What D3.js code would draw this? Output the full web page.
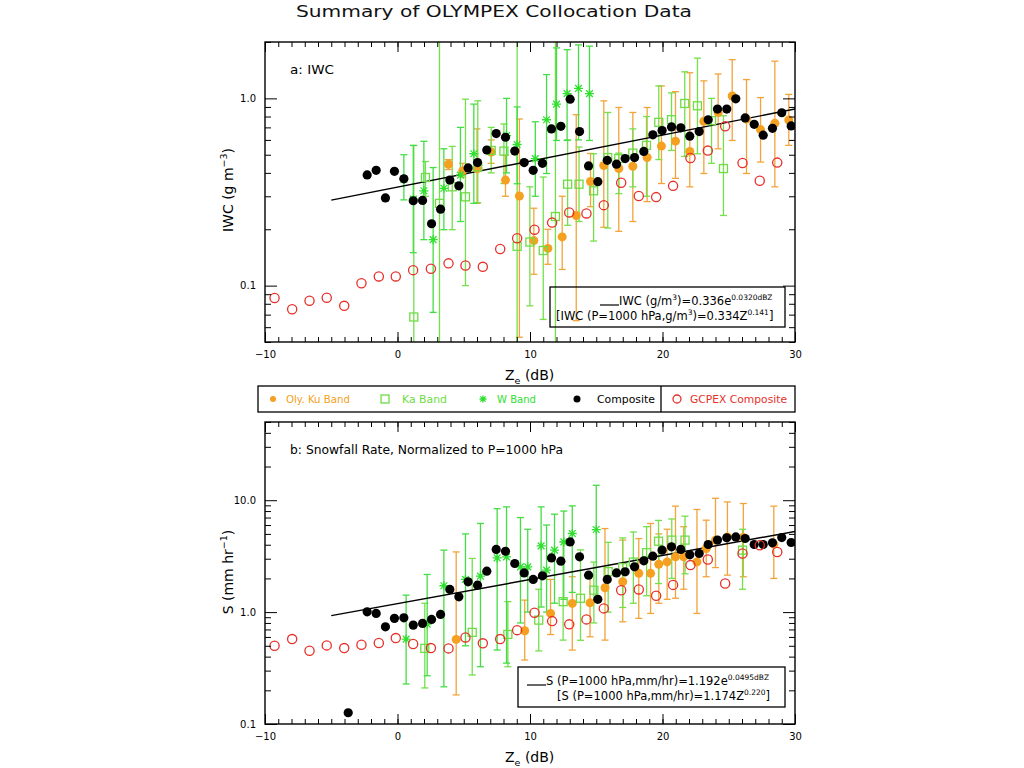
<!DOCTYPE html>
<html><head><meta charset="utf-8">
<script src="https://cdn.jsdelivr.net/npm/d3@7"></script>
<style>body{margin:0;background:#fff} text{font-family:"DejaVu Sans",sans-serif;fill:#000}</style>
</head><body><svg id="c" width="1024" height="768"></svg>
<script>
// ---------------- DATA ----------------
const xTickVals = [-10, 0, 10, 20, 30];
const xTickLabels = ["\u221210", "0", "10", "20", "30"];
const topYTickVals = [0.1, 1.0];
const topYTickLabels = ["0.1", "1.0"];
const botYTickVals = [0.1, 1.0, 10.0];
const botYTickLabels = ["0.1", "1.0", "10.0"];

// Composite (black) - panel a
const zCompTop = [-2.29,-1.61,-0.91,-0.23,0.48,1.19,1.89,2.57,3.25,3.95,4.63,5.33,6.04,6.74,7.45,8.15,8.85,9.56,10.24,10.94,11.62,12.33,13.03,13.74,14.42,15.12,15.83,16.53,17.18,17.89,18.59,19.27,19.97,20.68,21.38,22.06,22.77,23.45,24.15,24.85,25.53,26.24,26.92,27.6,28.3,29.0,29.71];
const iwcComp = [0.390,0.413,0.294,0.408,0.372,0.284,0.285,0.214,0.256,0.366,0.341,0.425,0.454,0.530,0.649,0.620,0.523,0.454,0.413,0.450,0.687,0.709,0.99,0.665,0.436,0.359,0.467,0.445,0.477,0.483,0.521,0.639,0.673,0.704,0.696,0.628,0.665,0.769,0.877,0.877,0.994,0.786,0.727,0.636,0.692,0.838,0.713];
// Composite (black) - panel b
const zCompBot = [-3.72,-2.29,-1.61,-0.91,-0.23,0.48,1.19,1.89,2.57,3.25,3.95,4.63,5.33,6.04,6.74,7.45,8.15,8.85,9.56,10.24,10.94,11.62,12.33,13.03,13.74,14.42,15.12,15.83,16.53,17.18,17.89,18.59,19.27,19.97,20.68,21.38,22.06,22.77,23.45,24.15,24.85,25.53,26.24,26.92,27.6,28.3,29.0,29.71];
const sComp = [0.126,1.006,0.973,0.739,0.879,0.889,0.765,0.792,0.861,0.954,1.595,1.37,1.866,1.742,2.32,3.63,3.50,2.72,2.24,1.96,2.11,3.05,2.85,4.24,3.12,2.14,1.30,1.96,2.24,2.29,2.54,2.87,3.16,3.58,3.83,3.63,3.25,3.34,4.02,4.40,4.61,4.70,4.55,4.02,4.02,4.16,4.64,4.19];

// GCPEX composite (red open circles)
const zGcpex = [-9.28,-7.95,-6.64,-5.34,-4.02,-2.72,-1.41,-0.13,1.18,2.52,3.85,5.13,6.44,7.75,9.03,10.34,11.67,12.96,14.26,15.57,16.88,18.21,19.52,20.8,22.11,23.42,24.73,26.04,27.34,28.66];
const iwcGcpex = [0.0859,0.0748,0.0831,0.0862,0.078,0.103,0.112,0.112,0.121,0.123,0.1315,0.128,0.126,0.157,0.179,0.199,0.217,0.246,0.243,0.269,0.354,0.301,0.297,0.341,0.480,0.526,0.709,0.452,0.363,0.454];
const sGcpex = [0.50,0.574,0.451,0.504,0.477,0.511,0.529,0.586,0.518,0.477,0.474,0.594,0.526,0.574,0.69,0.986,0.831,0.777,0.861,1.079,1.57,1.595,1.40,1.75,2.63,2.95,1.80,3.34,3.96,3.45];

// Oly. Ku band rows: [Ze, value, low, high]
const kuIwc = [[3.85,0.445,0.417,0.471],[4.92,0.41,0.38,0.45],[6.0,0.42,0.275,0.687],[7.07,0.517,0.45,0.60],[8.15,0.366,0.30,0.496],[9.2,0.301,0.053,0.776],[10.29,0.174,0.115,0.259],[11.35,0.158,0.13,0.20],[12.43,0.182,0.122,0.30],[13.49,0.237,0.065,0.818],[14.57,0.36,0.264,0.508],[15.57,0.438,0.205,0.97],[16.7,0.422,0.195,0.894],[17.76,0.434,0.22,0.841],[18.84,0.483,0.281,0.894],[19.92,0.556,0.351,1.165],[20.98,0.591,0.374,1.086],[22.06,0.521,0.337,1.37],[23.12,0.754,0.397,1.24],[24.2,0.841,0.538,1.35],[25.26,1.03,0.596,1.61],[26.34,0.776,0.397,1.26],[27.4,0.681,0.457,1.01],[28.48,0.736,0.337,1.58],[29.53,0.767,0.561,1.05]];
const kuS = [[4.43,0.57,0.182,3.45],[9.6,0.681,0.373,1.28],[11.55,0.973,0.63,1.96],[13.19,1.196,0.458,2.07],[14.53,1.21,0.602,2.07],[15.66,1.65,0.562,5.58],[17.0,1.866,0.819,4.40],[18.21,2.22,0.879,4.54],[19.1,2.22,0.973,6.2],[19.72,2.68,1.2,5.0],[20.35,2.81,1.3,5.5],[20.98,3.12,1.33,8.85],[21.6,3.12,1.6,5.8],[22.6,2.81,0.973,8.27],[23.3,3.70,2.07,6.63],[24.0,4.40,2.5,10.4],[24.9,4.70,2.14,9.65],[26.1,4.64,2.07,9.34],[28.4,4.05,2.0,8.85]];

// Ka band rows (low 0.001 / high 10 = off the plot)
const kaIwc = [[1.23,0.068,0.001,0.56],[2.11,0.378,0.30,0.46],[3.17,0.275,0.001,10],[4.13,0.337,0.199,0.554],[5.13,0.298,0.10,0.99],[6.06,0.43,0.277,0.97],[7.07,0.527,0.40,0.70],[8.03,0.523,0.351,0.73],[9.03,0.162,0.001,10],[9.99,0.171,0.078,0.337],[11.0,0.154,0.066,0.38],[11.92,0.234,0.001,10],[12.84,0.348,0.21,0.60],[13.7,0.348,0.22,0.55],[14.8,0.321,0.173,0.506],[15.87,0.483,0.203,0.841],[16.7,0.477,0.31,0.51],[17.76,0.51,0.337,0.687],[18.79,0.561,0.30,0.80],[19.72,0.745,0.471,1.165],[20.68,0.769,0.527,1.07],[21.68,0.939,0.49,1.386],[22.64,0.913,0.506,1.64],[23.7,0.76,0.45,1.0],[24.6,0.422,0.237,0.808]];
const kaS = [[2.06,0.474,0.21,1.2],[5.64,0.659,0.274,3.02],[8.33,0.632,0.325,1.24],[10.66,0.848,0.45,1.6],[12.5,1.24,0.562,4.24],[13.81,1.33,0.56,3.6],[14.82,1.57,0.8,2.8],[15.9,2.3,1.0,4.2],[17.0,2.5,1.1,4.6],[17.8,2.8,1.2,5.2],[18.8,3.4,1.4,5.8],[19.7,4.3,1.8,6.6],[20.7,4.4,2.0,6.8],[21.7,4.4,2.2,7.2],[26.04,3.58,1.6,5.5]];

// W band rows
const wIwc = [[0.48,0.37,0.287,0.50],[1.19,0.29,0.15,0.561],[1.99,0.321,0.176,0.59],[2.69,0.176,0.072,0.427],[3.5,0.331,0.199,0.538],[4.75,0.389,0.22,0.70],[5.76,0.506,0.275,0.932],[8.23,0.633,0.40,1.0],[9.03,0.567,0.35,0.90],[10.4,0.477,0.30,0.75],[11.25,0.769,0.397,1.34],[12.0,0.932,0.596,1.86],[12.8,1.06,0.596,1.82],[13.66,1.13,0.60,1.93],[14.49,1.06,0.596,1.9]];
const wS = [[0.65,0.574,0.228,1.418],[2.24,0.78,0.27,2.17],[3.5,1.72,0.215,3.58],[5.13,1.96,0.5,5.0],[6.26,2.10,0.325,6.2],[7.52,3.05,0.458,8.4],[8.23,3.12,0.35,8.72],[9.28,2.54,0.8,7.0],[9.83,2.54,1.0,5.5],[10.84,3.91,1.11,8.72],[11.25,2.37,1.0,6.0],[11.85,3.58,1.2,7.5],[12.55,4.24,1.3,8.0],[13.19,5.04,1.5,8.9],[15.0,5.47,1.24,13.6]];

// Fit line end points [Ze, value]
const fitIwc = [[-5, 0.286], [30, 0.877]];
const fitS = [[-5, 0.930], [30, 5.26]];

// ---------------- DRAW ----------------
const C = {ku:"#f5a020", kuBar:"#f2a43a", ka:"#6edc44", kaBar:"#74e04a", w:"#30e030", wBar:"#44dd44", red:"#e6302a"};
const svg = d3.select("#c");
const X0 = 265, X1 = 795;
const x = d3.scaleLinear().domain([-10, 30]).range([X0, X1]);

svg.append("text").attr("x", 296).attr("y", 17).attr("font-size", 16.5)
  .attr("textLength", 396).attr("lengthAdjust", "spacingAndGlyphs").style("fill", "#111")
  .text("Summary of OLYMPEX Collocation Data");

function asterisk(g, cx, cy, r, color) {
  const p = d3.path();
  p.moveTo(cx - r, cy); p.lineTo(cx + r, cy);
  p.moveTo(cx, cy - r); p.lineTo(cx, cy + r);
  const k = r * 0.75;
  p.moveTo(cx - k, cy - k); p.lineTo(cx + k, cy + k);
  p.moveTo(cx - k, cy + k); p.lineTo(cx + k, cy - k);
  g.append("path").attr("d", p.toString()).attr("stroke", color).attr("stroke-width", 1.3).attr("fill", "none");
}

function panel(cfg) {
  const y = d3.scaleLog().domain(cfg.domain).range([cfg.bot, cfg.top]);
  const clipId = "clip" + cfg.id;
  svg.append("clipPath").attr("id", clipId).append("rect")
    .attr("x", X0).attr("y", cfg.top).attr("width", X1 - X0).attr("height", cfg.bot - cfg.top);
  const g = svg.append("g");
  const d = g.append("g").attr("clip-path", `url(#${clipId})`);

  function bars(rows, color) {
    const eb = d.append("g").attr("stroke", color).attr("stroke-width", 1.3).attr("fill", "none");
    eb.selectAll("line.v").data(rows).join("line").attr("class", "v")
      .attr("x1", r => x(r[0])).attr("x2", r => x(r[0]))
      .attr("y1", r => y(r[2])).attr("y2", r => y(r[3]));
    eb.selectAll("line.lo").data(rows).join("line").attr("class", "lo")
      .attr("x1", r => x(r[0]) - 3.5).attr("x2", r => x(r[0]) + 3.5)
      .attr("y1", r => y(r[2])).attr("y2", r => y(r[2]));
    eb.selectAll("line.hi").data(rows).join("line").attr("class", "hi")
      .attr("x1", r => x(r[0]) - 3.5).attr("x2", r => x(r[0]) + 3.5)
      .attr("y1", r => y(r[3])).attr("y2", r => y(r[3]));
  }
  bars(cfg.ku, C.kuBar);
  bars(cfg.ka, C.kaBar);
  bars(cfg.w, C.wBar);

  // fit line
  d.append("path").datum(cfg.fit)
    .attr("d", d3.line().x(p => x(p[0])).y(p => y(p[1])))
    .attr("stroke", "#000").attr("stroke-width", 1.4).attr("fill", "none");

  d.append("g").selectAll("circle").data(cfg.ku).join("circle")
    .attr("cx", r => x(r[0])).attr("cy", r => y(r[1])).attr("r", 4.5).attr("fill", C.ku);
  d.append("g").selectAll("rect").data(cfg.ka).join("rect")
    .attr("x", r => x(r[0]) - 4).attr("y", r => y(r[1]) - 4).attr("width", 8).attr("height", 8)
    .attr("fill", "none").attr("stroke", C.ka).attr("stroke-width", 1.3);
  const wg = d.append("g");
  cfg.w.forEach(r => asterisk(wg, x(r[0]), y(r[1]), 4.5, C.w));
  d.append("g").selectAll("circle").data(cfg.compZ).join("circle")
    .attr("cx", z => x(z)).attr("cy", (z, i) => y(cfg.compV[i])).attr("r", 4.6).attr("fill", "#000");
  d.append("g").selectAll("circle").data(zGcpex).join("circle")
    .attr("cx", z => x(z)).attr("cy", (z, i) => y(cfg.gcpex[i])).attr("r", 4.6)
    .attr("fill", "none").attr("stroke", C.red).attr("stroke-width", 1.3);

  // axes
  const rmDomain = s => s.select(".domain").remove();
  const xMinor = d3.range(-10, 31, 1);
  const yAll = y.ticks();
  const yMinor = yAll.filter(v => Math.abs(Math.log10(v) - Math.round(Math.log10(v))) > 1e-6);
  const ax = g.append("g").attr("font-size", 14);
  ax.append("g").attr("transform", `translate(0,${cfg.bot})`).call(d3.axisBottom(x).tickValues(xMinor).tickSize(-5).tickFormat("")).call(rmDomain);
  ax.append("g").attr("transform", `translate(0,${cfg.bot})`).call(d3.axisBottom(x).tickValues(xTickVals).tickSize(-10).tickPadding(9).tickFormat((v, i) => xTickLabels[i])).call(rmDomain);
  ax.append("g").attr("transform", `translate(0,${cfg.top})`).call(d3.axisTop(x).tickValues(xMinor).tickSize(-5).tickFormat("")).call(rmDomain);
  ax.append("g").attr("transform", `translate(0,${cfg.top})`).call(d3.axisTop(x).tickValues(xTickVals).tickSize(-10).tickFormat("")).call(rmDomain);
  ax.append("g").attr("transform", `translate(${X0},0)`).call(d3.axisLeft(y).tickValues(yMinor).tickSize(-6).tickFormat("")).call(rmDomain);
  ax.append("g").attr("transform", `translate(${X0},0)`).call(d3.axisLeft(y).tickValues(cfg.yTicks).tickSize(-12).tickPadding(9).tickFormat((v, i) => cfg.yLabels[i])).call(rmDomain);
  ax.append("g").attr("transform", `translate(${X1},0)`).call(d3.axisRight(y).tickValues(yMinor).tickSize(-6).tickFormat("")).call(rmDomain);
  ax.append("g").attr("transform", `translate(${X1},0)`).call(d3.axisRight(y).tickValues(cfg.yTicks).tickSize(-12).tickFormat("")).call(rmDomain);
  ax.selectAll("text").attr("font-family", "DejaVu Sans, sans-serif").attr("fill", "#000");
  ax.selectAll("line").attr("stroke", "#000");

  g.append("rect").attr("x", X0).attr("y", cfg.top).attr("width", X1 - X0).attr("height", cfg.bot - cfg.top)
    .attr("fill", "none").attr("stroke", "#000").attr("stroke-width", 1.4);

  // x-axis title
  const xt = g.append("text").attr("x", 505).attr("y", cfg.bot + 38).attr("font-size", 14);
  xt.append("tspan").text("Z");
  xt.append("tspan").attr("font-size", 9.5).attr("dy", 4).text("e");
  xt.append("tspan").attr("dy", -4).text(" (dB)");

  // y-axis title
  const yt = g.append("text").attr("transform", `translate(233,${cfg.yTitleY}) rotate(-90)`)
    .attr("text-anchor", "middle").attr("font-size", 14);
  yt.append("tspan").text(cfg.yTitle[0]);
  yt.append("tspan").attr("font-size", 9.5).attr("dy", -6).text(cfg.yTitle[1]);
  yt.append("tspan").attr("dy", 6).text(")");

  g.append("text").attr("x", 290).attr("y", cfg.top + 32).attr("font-size", 12.5)
    .attr("textLength", cfg.labelLen).attr("lengthAdjust", "spacingAndGlyphs").text(cfg.label);

  // equation box
  const b = cfg.box;
  g.append("rect").attr("x", b.x).attr("y", b.y).attr("width", b.w).attr("height", 40)
    .attr("fill", "none").attr("stroke", "#000").attr("stroke-width", 1.3);
  g.append("line").attr("x1", b.lx).attr("x2", b.lx + 19).attr("y1", b.y + 18).attr("y2", b.y + 18).attr("stroke", "#000").attr("stroke-width", 1.2);
  [b.line1, b.line2].forEach((parts, li) => {
    const t = g.append("text").attr("x", li === 0 ? b.lx + 19 : b.x2).attr("y", b.y + 18 + li * 15).attr("font-size", 11.5);
    parts.forEach(pt => {
      if (pt[1] === "sup") t.append("tspan").attr("font-size", 7.5).attr("dy", -5).text(pt[0]);
      else if (pt[1] === "down") t.append("tspan").attr("dy", 5).text(pt[0]);
      else t.append("tspan").text(pt[0]);
    });
  });
}

panel({id: "a", top: 42, bot: 342, domain: [0.05, 2], yTicks: topYTickVals, yLabels: topYTickLabels,
  ku: kuIwc, ka: kaIwc, w: wIwc, compZ: zCompTop, compV: iwcComp, gcpex: iwcGcpex, fit: fitIwc,
  yTitle: ["IWC (g m", "\u22123"], yTitleY: 190, label: "a:  IWC", labelLen: 44,
  box: {x: 550, y: 287, w: 235, lx: 600, x2: 556,
    line1: [["IWC (g/m"], ["3", "sup"], [")=0.336e", "down"], ["0.0320dBZ", "sup"]],
    line2: [["[IWC (P=1000 hPa,g/m"], ["3", "sup"], [")=0.334Z", "down"], ["0.141", "sup"], ["]", "down"]]}});

panel({id: "b", top: 422, bot: 724, domain: [0.1, 50], yTicks: botYTickVals, yLabels: botYTickLabels,
  ku: kuS, ka: kaS, w: wS, compZ: zCompBot, compV: sComp, gcpex: sGcpex, fit: fitS,
  yTitle: ["S (mm hr", "\u22121"], yTitleY: 572, label: "b:  Snowfall Rate, Normalized to P=1000 hPa", labelLen: 273,
  box: {x: 518, y: 667, w: 267, lx: 527, x2: 557,
    line1: [["S (P=1000 hPa,mm/hr)=1.192e"], ["0.0495dBZ", "sup"]],
    line2: [["[S (P=1000 hPa,mm/hr)=1.174Z"], ["0.220", "sup"], ["]", "down"]]}});

// legend
const lg = svg.append("g");
lg.append("rect").attr("x", 258).attr("y", 386).attr("width", 537).attr("height", 26).attr("fill", "none").attr("stroke", "#000").attr("stroke-width", 1.3);
lg.append("line").attr("x1", 661).attr("x2", 661).attr("y1", 386).attr("y2", 412).attr("stroke", "#000").attr("stroke-width", 1.3);
const ly = 399;
lg.append("circle").attr("cx", 273).attr("cy", ly).attr("r", 3).attr("fill", C.ku);
lg.append("rect").attr("x", 381).attr("y", ly - 4).attr("width", 8).attr("height", 8).attr("fill", "none").attr("stroke", C.ka).attr("stroke-width", 1.3);
asterisk(lg, 483, ly, 3.5, C.w);
lg.append("circle").attr("cx", 577).attr("cy", ly).attr("r", 3.5).attr("fill", "#000");
lg.append("circle").attr("cx", 677).attr("cy", ly).attr("r", 4).attr("fill", "none").attr("stroke", C.red).attr("stroke-width", 1.3);
const legendItems = [["Oly. Ku Band", 286, 64, C.ku], ["Ka Band", 402, 45, C.ka], ["W Band", 497, 39, C.w], ["Composite", 597, 58, "#000"], ["GCPEX Composite", 690, 97, C.red]];
legendItems.forEach(it => lg.append("text").attr("x", it[1]).attr("y", ly + 4).attr("font-size", 11)
  .attr("textLength", it[2]).attr("lengthAdjust", "spacingAndGlyphs").style("fill", it[3]).text(it[0]));
</script></body></html>
